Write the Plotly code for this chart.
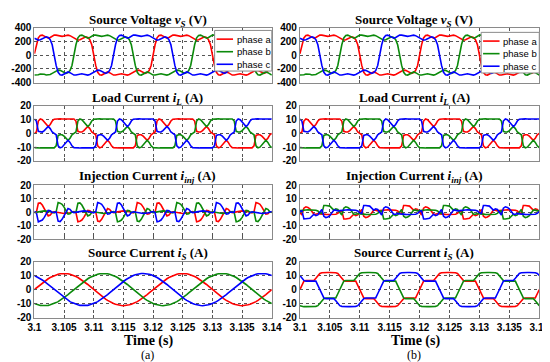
import plotly.graph_objects as go

# ---------------- data (one half-cycle of phase a, sampled every 1/3 ms; 50 Hz) -------------
# panel (a) and panel (b) -- values read from the picture
voltage_half_a = [20, 150, 250, 285, 290, 275, 255, 245, 255, 275, 290, 290, 285, 275, 272,
                  278, 288, 290, 282, 265, 245, 228, 218, 222, 240, 258, 265, 255, 225, 150]
voltage_half_b = [20, 150, 250, 285, 290, 275, 255, 245, 255, 275, 290, 290, 285, 275, 272,
                  278, 288, 290, 282, 265, 245, 228, 218, 222, 240, 258, 265, 255, 225, 150]

load_half_a = [0, 1, 9, 10.5, 10, 8.5, 6.5, 5, 6.5, 9, 10.3, 10.5, 10.6, 10.6, 10.5,
               10.5, 10.6, 10.5, 10.5, 10.6, 10.5, 9, 1.5, 1, 1, 2, 3.5, 5, 3.5, 1]
load_half_b = [0, 1, 9, 10.5, 10, 8.5, 6.5, 5, 6.5, 9, 10.3, 10.5, 10.6, 10.6, 10.5,
               10.5, 10.6, 10.5, 10.5, 10.6, 10.5, 9, 1.5, 1, 1, 2, 3.5, 5, 3.5, 1]

inj_half_a = [0, -0.2, 6.6, 6.9, 5.3, 2.7, -0.3, -2.7, -2.1, -0.3, 0.3, 0, -0.3, -0.7, -0.9,
              -1, -0.8, -0.8, -0.4, 0.1, 0.5, -0.3, -7.1, -6.7, -5.8, -3.8, -1.2, 1.4, 1.1, -0.2]
inj_half_b = [0, -2, 3, 4, 3.5, 2.5, 0.5, -1.5, -1.5, -1, -1.2, -1.5, -1.6, -1.6, -1.7,
              -1.7, -1.6, -1.7, -1.5, -0.9, 0.5, 1, -5, -5, -5, -4.5, -3, -1.5, -2.5, -2]

src_half_a = [0, 1.2, 2.4, 3.6, 4.7, 5.8, 6.8, 7.7, 8.6, 9.3, 10, 10.5, 10.9, 11.3, 11.4,
              11.5, 11.4, 11.3, 10.9, 10.5, 10, 9.3, 8.6, 7.7, 6.8, 5.8, 4.7, 3.6, 2.4, 1.2]
src_half_b = [0, 3, 6, 6.5, 6.5, 6, 6, 6.5, 8, 10, 11.5, 12, 12.2, 12.2, 12.2,
              12.2, 12.2, 12.2, 12, 11.5, 10, 8, 6.5, 6, 6, 6.5, 6.5, 6.5, 6, 3]

t_start = 3.1
sample_step = 1 / 3000.0          # 1/3 ms
n_samples = 121                   # 3.100 ... 3.140 s
x_tick_vals = [3.1, 3.105, 3.11, 3.115, 3.12, 3.125, 3.13, 3.135, 3.14]
x_tick_text = ["3.1", "3.105", "3.11", "3.115", "3.12", "3.125", "3.13", "3.135", "3.14"]
v_ticks = [-400, -200, 0, 200, 400]
i_ticks = [-20, -10, 0, 10, 20]
phase_names = ["phase a", "phase b", "phase c"]
phase_colors = ["#ff0000", "#0b8a0b", "#0000ff"]

row_titles = ["<b>Source Voltage <i>v<sub>S</sub></i> (V)</b>",
              "<b>Load Current <i>i<sub>L</sub></i> (A)</b>",
              "<b>Injection Current <i>i<sub>inj</sub></i> (A)</b>",
              "<b>Source Current <i>i<sub>S</sub></i> (A)</b>"]


def three_phase(half):
    period = half + [-v for v in half]
    n = len(period)
    third = n // 3
    a = [period[k % n] for k in range(n_samples)]
    b = [period[(k - third) % n] for k in range(n_samples)]
    c = [period[(k + third) % n] for k in range(n_samples)]
    return [a, b, c]


time = [t_start + k * sample_step for k in range(n_samples)]

panels = [
    [voltage_half_a, load_half_a, inj_half_a, src_half_a],
    [voltage_half_b, load_half_b, inj_half_b, src_half_b],
]

W, H = 550, 362
col_px = [(20, 265), (294, 541)]
row_px = [(14, 71), (95, 152), (177, 233), (256, 314)]
title_cx = [137, 412]
title_cy = [7, 87, 168, 248]


def px_x(p):
    return p / W


def px_y(p):
    return 1 - p / H


fig = go.Figure()
tick_font = dict(family="Liberation Sans, Arial", size=10, color="black", weight="bold")
serif = "Liberation Serif, Times New Roman"

for col in range(2):
    for row in range(4):
        idx = col * 4 + row + 1
        sfx = "" if idx == 1 else str(idx)
        waves = three_phase(panels[col][row])
        for ph in range(3):
            fig.add_trace(go.Scatter(
                x=time, y=waves[ph], mode="lines", name=phase_names[ph],
                line=dict(color=phase_colors[ph], width=1.6),
                xaxis="x" + sfx, yaxis="y" + sfx, showlegend=False, hoverinfo="skip"))
        x0, x1 = col_px[col]
        y0, y1 = row_px[row]
        fig.layout["xaxis" + sfx] = dict(
            domain=[px_x(x0), px_x(x1)], anchor="y" + sfx, range=[3.1, 3.14],
            tickvals=x_tick_vals, ticktext=x_tick_text, showticklabels=(row == 3),
            tickfont=tick_font, showgrid=True, gridcolor="#555", griddash="dot", gridwidth=1,
            showline=True, linecolor="#8a8a8a", linewidth=1, mirror=True,
            ticks="inside", ticklen=3, tickcolor="#555", zeroline=False, fixedrange=True)
        if row == 0:
            yr, yt = [-400, 400], v_ticks
        else:
            yr, yt = [-20, 20], i_ticks
        fig.layout["yaxis" + sfx] = dict(
            domain=[px_y(y1), px_y(y0)], anchor="x" + sfx, range=yr,
            tickvals=yt, ticktext=[str(v) for v in yt], tickfont=tick_font,
            showgrid=True, gridcolor="#555", griddash="dot", gridwidth=1,
            showline=True, linecolor="#8a8a8a", linewidth=1, mirror=True,
            ticks="inside", ticklen=3, tickcolor="#555", zeroline=False, fixedrange=True)
        fig.add_annotation(x=px_x(title_cx[col]), y=px_y(title_cy[row]), xref="paper",
                           yref="paper", text=row_titles[row], showarrow=False,
                           font=dict(family=serif, size=13, color="black"),
                           xanchor="center", yanchor="middle")

    # x axis label and panel label
    fig.add_annotation(x=px_x(title_cx[col] + 1), y=px_y(338), xref="paper", yref="paper",
                       text="<b>Time (s)</b>", showarrow=False,
                       font=dict(family=serif, size=14, color="black"),
                       xanchor="center", yanchor="middle")
    fig.add_annotation(x=px_x(title_cx[col]), y=px_y(353), xref="paper", yref="paper",
                       text=["(a)", "(b)"][col], showarrow=False,
                       font=dict(family=serif, size=12, color="black"),
                       xanchor="center", yanchor="middle")

    # legend box in the first row
    lx0, lx1 = (206, 265) if col == 0 else (481, 541)
    ly0 = 17 if col == 0 else 19
    ly1 = ly0 + 42
    fig.add_shape(type="rect", xref="paper", yref="paper",
                  x0=px_x(lx0), x1=px_x(lx1), y0=px_y(ly1), y1=px_y(ly0),
                  line=dict(color="#8a8a8a", width=1), fillcolor="white", layer="above")
    for ph in range(3):
        yy = ly0 + 9 + ph * 13
        fig.add_shape(type="line", xref="paper", yref="paper",
                      x0=px_x(lx0 + 2), x1=px_x(lx0 + 19), y0=px_y(yy), y1=px_y(yy),
                      line=dict(color=phase_colors[ph], width=1.6), layer="above")
        fig.add_annotation(x=px_x(lx0 + 21), y=px_y(yy), xref="paper", yref="paper",
                           text=phase_names[ph], showarrow=False,
                           font=dict(family="Liberation Sans, Arial", size=9.5, color="black"),
                           xanchor="left", yanchor="middle")

fig.update_layout(width=W, height=H, autosize=False,
                  margin=dict(l=0, r=0, t=0, b=0),
                  paper_bgcolor="white", plot_bgcolor="white", showlegend=False)

fig.write_html("out.html")
